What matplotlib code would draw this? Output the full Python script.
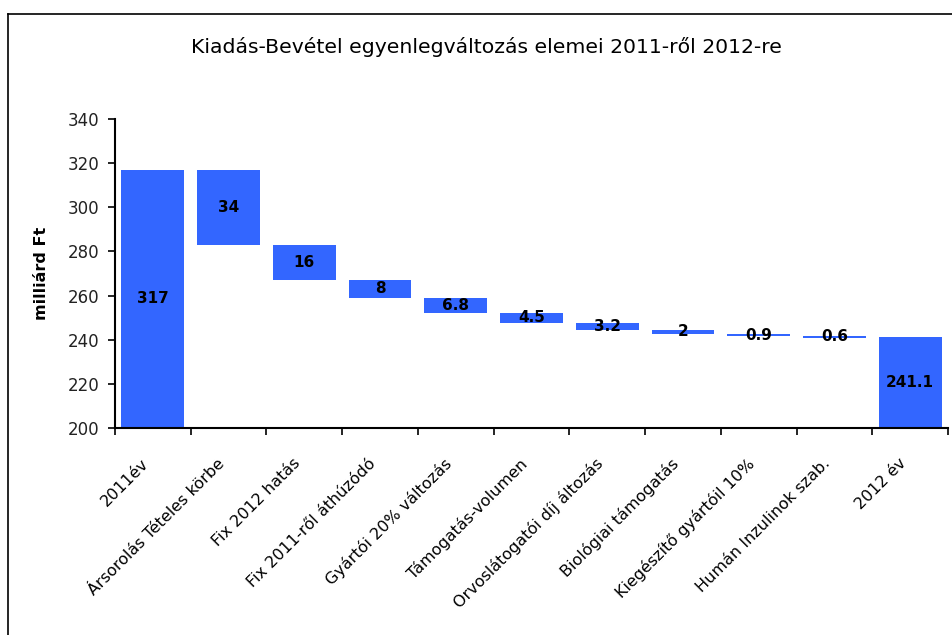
import matplotlib
matplotlib.use("Agg")
import matplotlib.pyplot as plt
import matplotlib.transforms as mtransforms
from matplotlib import font_manager
import numpy as np

categories = [
    "2011év", "Ársorolás Tételes körbe", "Fix 2012 hatás", "Fix 2011-ről áthúzódó",
    "Gyártói 20% változás", "Támogatás-volumen", "Orvoslátogatói díj áltozás",
    "Biológiai támogatás", "Kiegészítő gyártóil 10%", "Humán Inzulinok szab.", "2012 év",
]
start_total = 317
changes = [34, 16, 8, 6.8, 4.5, 3.2, 2, 0.9, 0.6]
end_total = 241.1
label_texts = ["317", "34", "16", "8", "6.8", "4.5", "3.2", "2", "0.9", "0.6", "241.1"]
yticks = [200, 220, 240, 260, 280, 300, 320, 340]

title = "Kiadás-Bevétel egyenlegváltozás elemei 2011-ről 2012-re"
ylabel = "milliárd Ft"

installed = {f.name for f in font_manager.fontManager.ttflist}
title_font = "Liberation Sans Narrow" if "Liberation Sans Narrow" in installed else "DejaVu Sans"

BAR = "#3366FF"
YMIN = 200

# running levels for the floating bars
bottoms, heights = [], []
bottoms.append(YMIN)
heights.append(start_total - YMIN)
level = start_total
for c in changes:
    level -= c
    bottoms.append(level)
    heights.append(c)
bottoms.append(YMIN)
heights.append(end_total - YMIN)

fig = plt.figure(figsize=(9.52, 6.35), dpi=100)
ax = fig.add_axes([115 / 952, 1 - 428 / 635, (948 - 115) / 952, (428 - 119) / 635])

x = np.arange(len(categories))
ax.bar(x, heights, bottom=bottoms, width=0.83, color=BAR, linewidth=0, zorder=2)

for xi, b, h, t in zip(x, bottoms, heights, label_texts):
    ax.text(xi, b + h / 2, t, ha="center", va="center", fontsize=11,
            fontweight="bold", color="black", zorder=3)

ax.set_xlim(-0.5, len(categories) - 0.5)
ax.set_ylim(YMIN, 340)
ax.set_yticks(yticks)
ax.set_yticklabels([str(v) for v in yticks], fontsize=12, color="#222222")
ax.set_xticks(np.arange(len(categories) + 1) - 0.5, minor=False)
ax.set_xticklabels([])
ax.set_xticks(x, minor=True)
ax.set_xticklabels(categories, minor=True, rotation=45, ha="right",
                   rotation_mode="anchor", fontsize=11.5)
ax.tick_params(axis="x", which="minor", length=0, pad=20)
ax.tick_params(axis="x", which="major", direction="out", length=5, width=1.2)
ax.tick_params(axis="y", direction="out", length=5, width=1.2, pad=6)

shift = mtransforms.ScaledTranslation(-12 / 100, 0, fig.dpi_scale_trans)
for lbl in ax.get_xticklabels(minor=True):
    lbl.set_transform(lbl.get_transform() + shift)

for s in ("top", "right"):
    ax.spines[s].set_visible(False)
for s in ("left", "bottom"):
    ax.spines[s].set_linewidth(1.5)

ax.set_ylabel(ylabel, fontsize=11.5, fontweight="bold", labelpad=14)

fig.text(486 / 952, 1 - 47 / 635, title, ha="center", va="center",
         fontsize=14.7, family=title_font, color="black")

# outer frame: top and left edges
fig.add_artist(plt.Line2D([8 / 952, 1.0], [1 - 14 / 635, 1 - 14 / 635],
                          transform=fig.transFigure, color="black", linewidth=1.2))
fig.add_artist(plt.Line2D([8 / 952, 8 / 952], [0.0, 1 - 14 / 635],
                          transform=fig.transFigure, color="black", linewidth=1.2))

fig.savefig("out.png", dpi=100, facecolor="white")
